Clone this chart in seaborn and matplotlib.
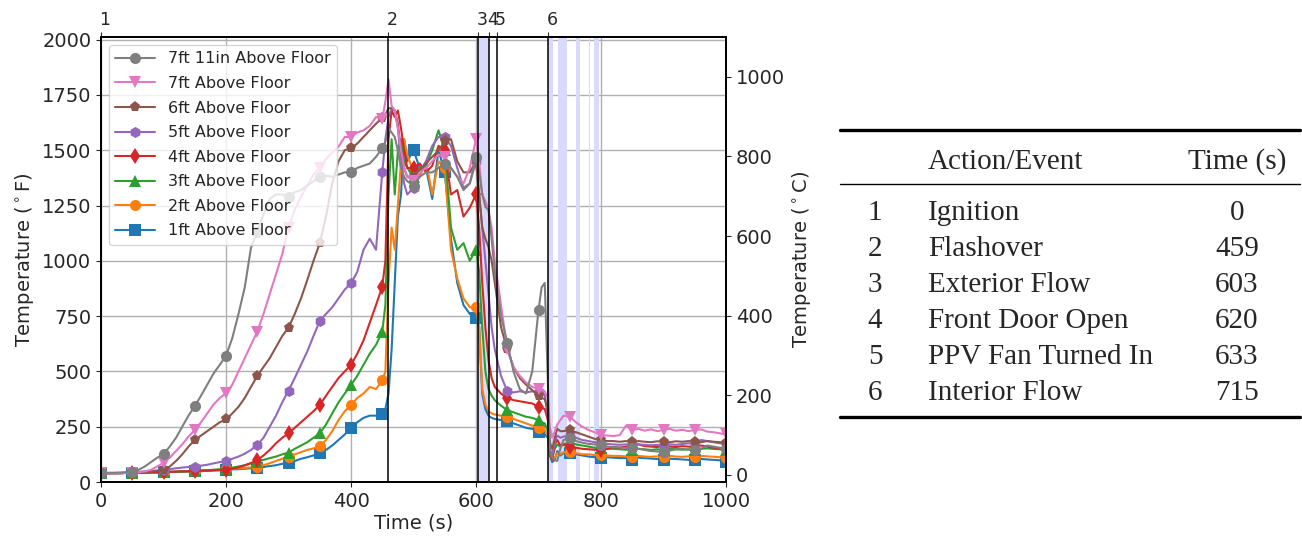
import numpy as np
import matplotlib
matplotlib.use("Agg")
import matplotlib.pyplot as plt
import seaborn as sns
from matplotlib.lines import Line2D
from matplotlib.transforms import ScaledTranslation

# time grid (s)
time_s = (list(range(0, 451, 10)) + [455, 460, 465, 470, 475, 480, 485, 490]
          + list(range(500, 601, 10)) + [605, 610, 615, 620, 625, 630]
          + list(range(640, 701, 10)) + [705, 710, 715, 718, 722, 726, 730, 735]
          + list(range(740, 1001, 10)))

ft1 = [40, 40, 40, 40, 41, 42, 42, 42, 43, 43, 44, 45, 45, 46, 47, 48, 49, 50, 52, 53, 55,
       57, 58, 60, 62, 65, 68, 72, 76, 82, 88, 95, 105, 112, 120, 130, 145, 165, 190, 215, 243,
       270, 290, 300, 300, 308,
       330, 400, 600, 900, 1200, 1300, 1550, 1450,
       1500, 1420, 1420, 1280, 1500, 1400, 1100, 900, 800, 760, 740,
       700, 400, 330, 300, 290, 285,
       280, 275, 265, 255, 245, 240, 225, 220, 215,
       200, 120, 90, 100, 140, 120,
       130, 130, 125, 120, 115, 112, 110, 112, 110, 108, 108, 100, 110, 108, 106, 104, 98,
       105, 104, 102, 100, 98, 104, 102, 100, 98, 92]
ft2 = [40, 40, 40, 40, 41, 42, 42, 43, 43, 44, 45, 46, 47, 48, 49, 50, 52, 53, 55, 57, 58,
       60, 62, 64, 66, 70, 76, 85, 95, 105, 115, 125, 135, 145, 152, 163, 190, 230, 280, 320, 348,
       380, 400, 430, 420, 460,
       500, 900, 1150, 1050, 1250, 1450, 1550, 1480,
       1400, 1380, 1450, 1300, 1450, 1420, 1050, 920, 830, 790, 790,
       700, 420, 350, 320, 310, 305,
       300, 295, 285, 275, 265, 255, 245, 240, 235,
       210, 140, 100, 110, 130, 125,
       135, 137, 130, 125, 125, 122, 122, 120, 118, 118, 116, 114, 118, 115, 114, 116, 112,
       118, 115, 114, 116, 114, 118, 116, 114, 112, 110]
ft3 = [40, 40, 40, 40, 41, 42, 42, 43, 43, 44, 45, 46, 47, 48, 49, 50, 52, 53, 55, 57, 60,
       65, 70, 76, 84, 92, 100, 108, 115, 125, 133, 150, 165, 180, 200, 220, 260, 310, 360, 400, 438,
       480, 530, 580, 620, 680,
       800, 1300, 1550, 1300, 1500, 1550, 1450, 1420,
       1380, 1420, 1430, 1500, 1590, 1500, 1150, 1050, 1080, 1000, 1050,
       950, 700, 500, 420, 390, 370,
       345, 325, 315, 305, 295, 290, 280, 270, 265,
       230, 130, 110, 150, 170, 160,
       170, 182, 170, 165, 160, 155, 152, 150, 150, 148, 146, 145, 150, 148, 145, 148, 145,
       150, 148, 146, 148, 145, 150, 152, 150, 148, 145]
ft4 = [40, 40, 40, 40, 41, 42, 42, 43, 43, 44, 45, 46, 47, 48, 49, 50, 51, 52, 53, 54, 54,
       60, 66, 75, 86, 99, 120, 145, 175, 200, 220, 245, 270, 295, 320, 348, 390, 430, 470, 500, 529,
       580, 640, 720, 800, 883,
       1000, 1550, 1680, 1650, 1680, 1600, 1500, 1420,
       1420, 1440, 1400, 1430, 1520, 1500, 1300, 1320, 1200, 1240, 1300,
       1150, 900, 700, 550, 470, 430,
       400, 380, 370, 365, 360, 355, 340, 335, 330,
       280, 140, 100, 170, 190, 165,
       170, 160, 155, 150, 148, 146, 145, 150, 158, 155, 160, 165, 170, 162, 160, 158, 165,
       160, 158, 162, 160, 158, 165, 160, 155, 152, 150]
ft5 = [40, 40, 40, 41, 42, 44, 46, 48, 50, 52, 55, 58, 62, 65, 68, 70, 74, 78, 84, 90, 96,
       105, 115, 128, 145, 167, 200, 250, 300, 360, 413, 470, 530, 590, 660, 728, 760, 790, 830, 870, 898,
       950, 1050, 1100, 1050, 1400,
       1550, 1650, 1690, 1680, 1600, 1450, 1350, 1300,
       1330, 1400, 1450, 1520, 1560, 1560, 1520, 1420, 1330, 1350, 1450,
       1300, 1150, 1000, 850, 700, 600,
       480, 410, 405, 410, 405, 410, 407, 400, 395,
       300, 150, 120, 180, 210, 200,
       205, 212, 200, 190, 185, 180, 175, 172, 170, 168, 170, 168, 170, 168, 166, 168, 167,
       170, 168, 172, 175, 170, 190, 185, 180, 175, 170]
ft6 = [40, 40, 40, 40, 41, 42, 43, 44, 46, 50, 54, 70, 95, 125, 160, 190, 210, 230, 250, 270, 283,
       310, 340, 380, 430, 479, 520, 560, 610, 660, 698, 760, 830, 913, 1000, 1079, 1200, 1350, 1450, 1500, 1510,
       1530, 1560, 1590, 1620, 1645,
       1660, 1690, 1690, 1680, 1620, 1500, 1420, 1380,
       1380, 1410, 1440, 1470, 1500, 1540, 1550, 1450, 1400, 1400, 1450,
       1300, 1150, 1100, 1063, 1000, 900,
       700, 600, 520, 470, 440, 415, 390, 380, 375,
       320, 180, 150, 200, 240, 230,
       230, 235, 225, 215, 205, 195, 190, 185, 185, 182, 185, 180, 185, 182, 180, 184, 182,
       180, 184, 182, 185, 182, 180, 185, 182, 180, 178]
ft7 = [40, 40, 40, 40, 41, 42, 44, 48, 55, 70, 87, 110, 140, 170, 205, 235, 270, 310, 350, 380, 401,
       440, 500, 560, 620, 680, 760, 850, 940, 1030, 1150, 1230, 1290, 1340, 1390, 1420, 1460, 1490, 1516, 1560, 1560,
       1580, 1590, 1610, 1650, 1640,
       1720, 1820, 1700, 1680, 1600, 1500, 1420, 1380,
       1360, 1400, 1420, 1450, 1480, 1470, 1420, 1380, 1350, 1420, 1550,
       1450, 1300, 1270, 1230, 1150, 1000,
       800, 600, 520, 480, 450, 430, 420, 415, 410,
       380, 250, 200, 230, 260, 280,
       300, 295, 270, 250, 235, 225, 212, 210, 208, 212, 255, 235, 240, 232, 238, 230, 235,
       240, 232, 236, 230, 235, 238, 228, 225, 220, 215]
ft7_11 = [42, 42, 42, 43, 44, 47, 55, 70, 90, 110, 127, 160, 200, 250, 300, 343, 390, 440, 490, 530, 570,
          650, 760, 880, 1060, 1130, 1210, 1280, 1300, 1300, 1290, 1310, 1320, 1340, 1360, 1380, 1385, 1380, 1390, 1400, 1400,
          1420, 1430, 1440, 1470, 1510,
          1540, 1600, 1580, 1560, 1500, 1420, 1380, 1360,
          1340, 1380, 1400, 1400, 1420, 1440, 1420, 1380, 1320, 1350, 1470,
          1400, 1300, 1244, 1230, 1100, 950,
          750, 630, 500, 420, 400, 500, 778, 880, 900,
          450, 150, 110, 100, 95, 150,
          190, 197, 185, 178, 172, 170, 167, 160, 158, 156, 154, 152, 150, 145, 140, 138, 137,
          142, 148, 150, 146, 145, 150, 165, 160, 155, 150]

series_names = ["1ft Above Floor", "2ft Above Floor", "3ft Above Floor", "4ft Above Floor",
                "5ft Above Floor", "6ft Above Floor", "7ft Above Floor", "7ft 11in Above Floor"]
series_vals = [ft1, ft2, ft3, ft4, ft5, ft6, ft7, ft7_11]
series_markers = ["s", "o", "^", "d", "h", "p", "v", "o"]

event_times = [0, 459, 603, 620, 633, 715]
event_labels = ["1", "2", "3", "4", "5", "6"]
event_names = ["Ignition", "Flashover", "Exterior Flow", "Front Door Open",
               "PPV Fan Turned In", "Interior Flow"]
flow_spans = [(603, 620), (715, 723), (731, 746), (760, 766), (781, 782), (789, 797)]

sns.set_style("ticks")
plt.rcParams["font.family"] = ["DejaVu Sans"]

fig = plt.figure(figsize=(13.02, 5.37), dpi=100)
ax1 = fig.add_axes([101/1302, 1-482/537, 625/1302, 445/537])

palette = sns.color_palette("tab10")
mark_idx = [i for i, t in enumerate(time_s) if t % 50 == 0]
for i, (name, vals, mk) in enumerate(zip(series_names, series_vals, series_markers)):
    sns.lineplot(x=time_s, y=vals, ax=ax1, color=palette[i], marker=mk, markersize=8,
                 markevery=mark_idx, markeredgewidth=0, lw=1.5, label=name)

ymax = 2012
ax1.set_xlim(0, 1000)
ax1.set_ylim(0, ymax)
ax1.set_yticks(np.arange(0, 2001, 250))
ax1.set_xticks(np.arange(0, 1001, 200))
ax1.grid(True, color="#b0b0b0", lw=1)
ax1.set_axisbelow(True)
ax1.tick_params(labelsize=14)
ax1.set_xlabel("Time (s)", fontsize=14, labelpad=2)
ax1.set_ylabel(r"Temperature ($^\circ$F)", fontsize=14)

for t0, t1 in flow_spans:
    ax1.axvspan(t0, t1, facecolor="#d9d9fb", edgecolor="none", lw=0, zorder=0.8)
for t in event_times:
    ax1.axvline(t, color="black", lw=1.1, zorder=5)

h, l = ax1.get_legend_handles_labels()
ax1.legend(h[::-1], l[::-1], loc="upper left", fontsize=11.5, framealpha=0.8,
           handlelength=2.5, labelspacing=0.6)

for sp in ax1.spines.values():
    sp.set_color("black")
    sp.set_linewidth(1.2)

# Celsius axis
ax2 = ax1.twinx()
ax2.set_ylim((0 - 32) / 1.8, (ymax - 32) / 1.8)
ax2.set_yticks(np.arange(0, 1001, 200))
ax2.tick_params(labelsize=14)
ax2.set_ylabel(r"Temperature ($^\circ$C)", fontsize=14)

# event numbers on top
ax3 = ax1.twiny()
ax3.set_xlim(0, 1000)
ax3.set_xticks(event_times)
ax3.set_xticklabels(event_labels, fontsize=12.5)
ax3.tick_params(pad=2)
shift = ScaledTranslation(4/100, 0, fig.dpi_scale_trans)
for lab in ax3.get_xticklabels():
    lab.set_transform(lab.get_transform() + shift)
for ax in (ax2, ax3):
    for sp in ax.spines.values():
        sp.set_color("black")
        sp.set_linewidth(1.2)

# event table
serif = ["Liberation Serif", "DejaVu Serif"]
fs = 21
x0, x1 = 840/1302, 1300/1302
fig.add_artist(Line2D([x0, x1], [1-130/537]*2, color="black", lw=2.4, transform=fig.transFigure))
fig.add_artist(Line2D([x0, x1], [1-184/537]*2, color="black", lw=1.0, transform=fig.transFigure))
fig.add_artist(Line2D([x0, x1], [1-417/537]*2, color="black", lw=2.4, transform=fig.transFigure))
fig.text(928/1302, 1-162/537, "Action/Event", family=serif, fontsize=fs, va="center", ha="left")
fig.text(1237/1302, 1-162/537, "Time (s)", family=serif, fontsize=fs, va="center", ha="center")
for k, (lab, name, t) in enumerate(zip(event_labels, event_names, event_times)):
    yy = 1 - (213 + 36 * k) / 537
    fig.text(875/1302, yy, lab, family=serif, fontsize=fs, va="center", ha="center")
    fig.text(928/1302, yy, name, family=serif, fontsize=fs, va="center", ha="left")
    fig.text(1237/1302, yy, str(t), family=serif, fontsize=fs, va="center", ha="center")

fig.savefig("out.png", dpi=100)
